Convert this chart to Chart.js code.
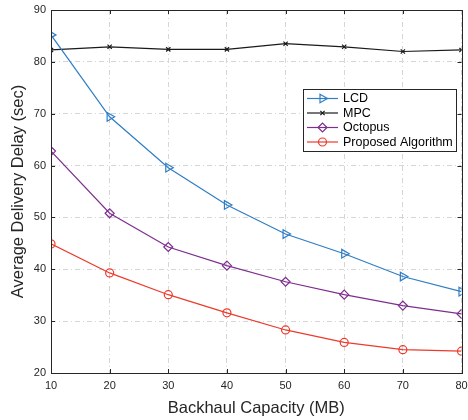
<!DOCTYPE html>
<html>
<head>
<meta charset="utf-8">
<script src="https://cdn.jsdelivr.net/npm/chart.js@4.4.0/dist/chart.umd.min.js"></script>
<style>
  html, body { margin: 0; padding: 0; background: #fff; }
  canvas { display: block; }
</style>
</head>
<body>
<canvas id="delayChart" width="468" height="420"></canvas>
<script>
'use strict';

// data
const capacities = [10, 20, 30, 40, 50, 60, 70, 80];
const lcdDelay = [85.2, 69.4, 59.6, 52.4, 46.8, 43.0, 38.6, 35.7];
const mpcDelay = [82.3, 82.9, 82.4, 82.4, 83.5, 82.9, 82.0, 82.3];
const octopusDelay = [62.8, 50.8, 44.3, 40.7, 37.6, 35.1, 33.0, 31.4];
const proposedDelay = [44.9, 39.3, 35.1, 31.6, 28.3, 25.9, 24.5, 24.2];
const yTicks = [20, 30, 40, 50, 60, 70, 80, 90];

const fontFamily = '"Liberation Sans", Arial, Helvetica, sans-serif';
const axisColor = '#262626';
const gridDash = [5, 3, 1, 3];

function toPoints(values) {
  return capacities.map((c, i) => ({ x: c, y: values[i] }));
}

function series(label, values, color, style, radius, rotation) {
  return {
    label: label,
    data: toPoints(values),
    borderColor: color,
    backgroundColor: color,
    borderWidth: 1.2,
    pointStyle: style,
    pointRadius: radius,
    pointRotation: rotation || 0,
    pointBorderColor: color,
    pointBackgroundColor: 'rgba(0,0,0,0)',
    pointBorderWidth: 1.2,
    tension: 0,
    fill: false
  };
}

// frame with inward ticks, MATLAB style
const matlabBox = {
  id: 'matlabBox',
  afterDatasetsDraw(chart) {
    const { ctx, chartArea: a, scales } = chart;
    const len = 4;
    ctx.save();
    ctx.strokeStyle = axisColor;
    ctx.lineWidth = 1;
    ctx.beginPath();
    scales.x.ticks.forEach(t => {
      const px = Math.round(scales.x.getPixelForValue(t.value)) + 0.5;
      ctx.moveTo(px, a.bottom); ctx.lineTo(px, a.bottom - len);
      ctx.moveTo(px, a.top); ctx.lineTo(px, a.top + len);
    });
    scales.y.ticks.forEach(t => {
      const py = Math.round(scales.y.getPixelForValue(t.value)) + 0.5;
      ctx.moveTo(a.left, py); ctx.lineTo(a.left + len, py);
      ctx.moveTo(a.right, py); ctx.lineTo(a.right - len, py);
    });
    ctx.stroke();
    ctx.strokeRect(Math.round(a.left) + 0.5, Math.round(a.top) + 0.5,
      Math.round(a.right - a.left), Math.round(a.bottom - a.top));
    ctx.restore();
  }
};

// legend box inside the plot, upper right
const insideLegend = {
  id: 'insideLegend',
  afterDraw(chart) {
    const { ctx } = chart;
    const box = { x: 303, y: 89, w: 153, h: 62 };
    const rowH = 14.5;
    ctx.save();
    ctx.fillStyle = '#ffffff';
    ctx.fillRect(box.x, box.y, box.w, box.h);
    ctx.strokeStyle = axisColor;
    ctx.lineWidth = 1;
    ctx.strokeRect(box.x + 0.5, box.y + 0.5, box.w, box.h);
    ctx.font = '12.5px ' + fontFamily;
    ctx.textBaseline = 'middle';
    chart.data.datasets.forEach((ds, i) => {
      const y = box.y + 9.5 + i * rowH;
      ctx.strokeStyle = ds.borderColor;
      ctx.lineWidth = ds.borderWidth;
      ctx.beginPath();
      ctx.moveTo(box.x + 4, y);
      ctx.lineTo(box.x + 35, y);
      ctx.stroke();
      ctx.fillStyle = 'rgba(0,0,0,0)';
      Chart.helpers.drawPoint(ctx, {
        pointStyle: ds.pointStyle,
        radius: ds.pointRadius,
        rotation: ds.pointRotation,
        borderWidth: ds.pointBorderWidth
      }, box.x + 19.5, y);
      ctx.fillStyle = '#000000';
      ctx.fillText(ds.label, box.x + 40, y + 0.5);
    });
    ctx.restore();
  }
};

const ctx = document.getElementById('delayChart').getContext('2d');

new Chart(ctx, {
  type: 'line',
  data: {
    datasets: [
      series('LCD', lcdDelay, '#2f7ec6', 'triangle', 5, 90),
      series('MPC', mpcDelay, '#1a1a1a', 'crossRot', 3),
      series('Octopus', octopusDelay, '#7e2f8e', 'rectRot', 4.5),
      series('Proposed Algorithm', proposedDelay, '#ee3a2c', 'circle', 4)
    ]
  },
  options: {
    responsive: false,
    animation: false,
    layout: { padding: { top: 10, right: 6.5, left: 0, bottom: 0 } },
    plugins: {
      legend: { display: false },
      tooltip: { enabled: false }
    },
    scales: {
      x: {
        type: 'linear',
        min: 10,
        max: 80,
        ticks: {
          stepSize: 10,
          color: axisColor,
          padding: 6,
          font: { size: 11, family: fontFamily }
        },
        grid: {
          color: '#d6d6d6',
          drawTicks: false
        },
        border: { display: false, dash: gridDash },
        title: {
          display: true,
          text: 'Backhaul Capacity (MB)',
          color: axisColor,
          padding: { top: 8, bottom: 2 },
          font: { size: 16.5, family: fontFamily }
        },
        afterFit(scale) {
          scale.height = 47;
          scale.paddingLeft = 0;
          scale.paddingRight = 0;
        }
      },
      y: {
        type: 'linear',
        min: 20,
        max: 90,
        afterBuildTicks(scale) {
          scale.ticks = yTicks.map(v => ({ value: v }));
        },
        ticks: {
          color: axisColor,
          padding: 5,
          font: { size: 11, family: fontFamily }
        },
        grid: {
          color: '#d6d6d6',
          drawTicks: false
        },
        border: { display: false, dash: gridDash },
        title: {
          display: true,
          text: 'Average Delivery Delay (sec)',
          color: axisColor,
          padding: { top: 9, bottom: 4 },
          font: { size: 16.5, family: fontFamily }
        },
        afterFit(scale) {
          scale.width = 51;
          scale.paddingTop = 0;
          scale.paddingBottom = 0;
        }
      }
    }
  },
  plugins: [matlabBox, insideLegend]
});
</script>
</body>
</html>
